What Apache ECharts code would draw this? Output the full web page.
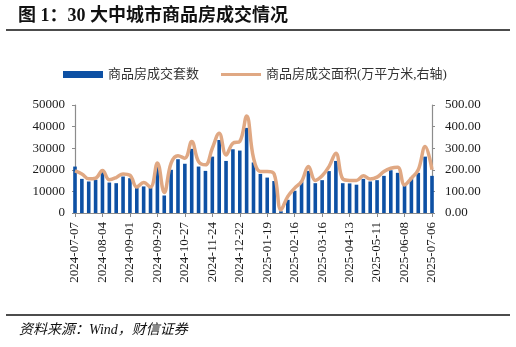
<!DOCTYPE html>
<html>
<head>
<meta charset="utf-8">
<script src="https://cdn.jsdelivr.net/npm/echarts@6/dist/echarts.min.js"></script>
<style>html,body{margin:0;padding:0;background:#fff;}#c{width:516px;height:347px;}</style>
</head>
<body>
<div id="c"></div>
<script>
var dates = ['2024-07-07','2024-07-14','2024-07-21','2024-07-28','2024-08-04','2024-08-11','2024-08-18','2024-08-25',
'2024-09-01','2024-09-08','2024-09-15','2024-09-22','2024-09-29','2024-10-06','2024-10-13','2024-10-20',
'2024-10-27','2024-11-03','2024-11-10','2024-11-17','2024-11-24','2024-12-01','2024-12-08','2024-12-15',
'2024-12-22','2024-12-29','2025-01-05','2025-01-12','2025-01-19','2025-01-26','2025-02-02','2025-02-09',
'2025-02-16','2025-02-23','2025-03-02','2025-03-09','2025-03-16','2025-03-23','2025-03-30','2025-04-06',
'2025-04-13','2025-04-20','2025-04-27','2025-05-04','2025-05-11','2025-05-18','2025-05-25','2025-06-01',
'2025-06-08','2025-06-15','2025-06-22','2025-06-29','2025-07-06'];

var units = [21500,15800,14600,15400,18900,14100,13800,16900,16100,11700,12300,11700,21500,8100,
20000,24900,22800,29700,21500,19500,26100,33800,24100,29500,28900,39400,23400,18100,16400,14800,
800,6100,10300,14600,19500,13800,15200,19400,24100,13800,13700,13100,15800,14600,15200,17200,
19800,18600,13500,16400,18600,26100,17200];

var area = [195,181,158,161,197,154,164,181,175,120,141,120,232,95,231,265,254,331,238,223,300,369,
269,323,331,449,255,192,192,181,15,77,115,146,215,151,172,215,277,158,151,151,172,157,166,192,
207,212,130,161,200,308,200];

var seriesNames = ['商品房成交套数','商品房成交面积(万平方米,右轴)'];
var titleText = '图 1：30 大中城市商品房成交情况';
var sourceText = '资料来源：Wind，财信证券';

var serif = "'Liberation Serif', 'Noto Sans CJK SC'";
var barColor = '#0d50a4', lineColor = '#e0a883';
var chart = echarts.init(document.getElementById('c'), null, {renderer:'canvas'});
chart.setOption({
  animation: false,
  backgroundColor: '#fff',
  graphic: [
    {type:'text', left: 18, top: 7, style:{text: titleText, font: "bold 18px 'Liberation Serif', 'Noto Sans CJK SC'", fill:'#111'}},
    {type:'line', shape:{x1:6,y1:30,x2:510,y2:30}, style:{stroke:'#111', lineWidth:1.6}},
    {type:'line', shape:{x1:6,y1:315,x2:510,y2:315}, style:{stroke:'#111', lineWidth:1.6}},
    {type:'text', left: 19, top: 323, style:{text: sourceText, font: "italic 14px 'Liberation Serif', 'Noto Sans CJK SC'", fill:'#111'}}
  ],
  legend: [
    {data:[{name: seriesNames[0], icon:'rect', itemStyle:{color: barColor}}], left: 58, top: 63, itemWidth: 40, itemHeight: 7,
     textStyle:{fontSize:13, color:'#333', fontFamily: serif}},
    {data:[{name: seriesNames[1], icon:'rect', itemStyle:{color: lineColor}}], left: 216, top: 63, itemWidth: 40, itemHeight: 3,
     textStyle:{fontSize:13, color:'#333', fontFamily: serif}}
  ],
  grid: {left: 75, right: 84, top: 105, bottom: 134},
  xAxis: {
    type: 'category', data: dates, boundaryGap: false,
    axisLine: {lineStyle:{color:'#8c8c8c', width:1.2}},
    axisTick: {interval: 3, length: 4, lineStyle:{color:'#8c8c8c'}},
    axisLabel: {interval: 3, rotate: 90, margin: 9, fontSize: 13, color:'#1a1a1a', fontFamily: serif}
  },
  yAxis: [
    {type:'value', min:0, max:50000, interval:10000,
     axisLine:{show:true, lineStyle:{color:'#8c8c8c', width:1.2}},
     axisTick:{show:true, length:3, lineStyle:{color:'#8c8c8c'}},
     splitLine:{show:false},
     axisLabel:{fontSize:13, color:'#1a1a1a', fontFamily: serif, margin: 10,
       formatter: function(v){return String(v);}}},
    {type:'value', min:0, max:500, interval:100, position:'right',
     axisLine:{show:true, lineStyle:{color:'#8c8c8c', width:1.2}},
     axisTick:{show:true, length:3, lineStyle:{color:'#8c8c8c'}},
     splitLine:{show:false},
     axisLabel:{fontSize:13, color:'#1a1a1a', fontFamily: serif, margin: 13,
       formatter: function(v){return v.toFixed(2);}}}
  ],
  series: [
    {name: seriesNames[0], type:'bar', data: units, barWidth: 3.6, itemStyle:{color: barColor}},
    {name: seriesNames[1], type:'line', yAxisIndex:1, data: area, smooth: 0.4, symbol:'none', showSymbol:false, z: 5,
     lineStyle:{color: lineColor, width:3.5}, itemStyle:{color: lineColor}}
  ]
});
</script>
</body>
</html>
